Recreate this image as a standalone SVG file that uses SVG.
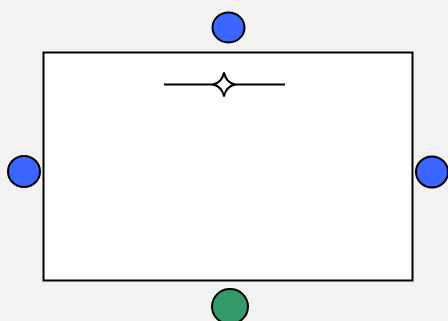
<svg xmlns="http://www.w3.org/2000/svg" width="448" height="321" viewBox="0 0 448 321">
<style>
.port{stroke:#000;stroke-width:2}
.blue{fill:#3a66ff}
.green{fill:#339966}
</style>
<rect x="0" y="0" width="448" height="321" fill="#f2f2f2"/>
<g id="box">
<rect x="43.5" y="52.5" width="369" height="228" fill="#fff" stroke="#000" stroke-width="2"/>
</g>
<g id="connectors">
<line x1="164" y1="84.5" x2="285" y2="84.5" stroke="#000" stroke-width="2"/>
<path d="M224,72.5 Q226,82.5 235,84.5 Q226,86.5 224,96.5 Q222,86.5 213,84.5 Q222,82.5 224,72.5 Z" fill="#fff" stroke="#000" stroke-width="2"/>
</g>
<g id="port-top"><ellipse class="port blue" cx="228.5" cy="27.5" rx="16" ry="15"/></g>
<g id="port-left"><ellipse class="port blue" cx="24" cy="171.5" rx="16" ry="15.5"/></g>
<g id="port-right"><ellipse class="port blue" cx="432" cy="172" rx="16" ry="15.5"/></g>
<g id="port-bottom"><ellipse class="port green" cx="230" cy="306.5" rx="18" ry="17.5"/></g>
</svg>
